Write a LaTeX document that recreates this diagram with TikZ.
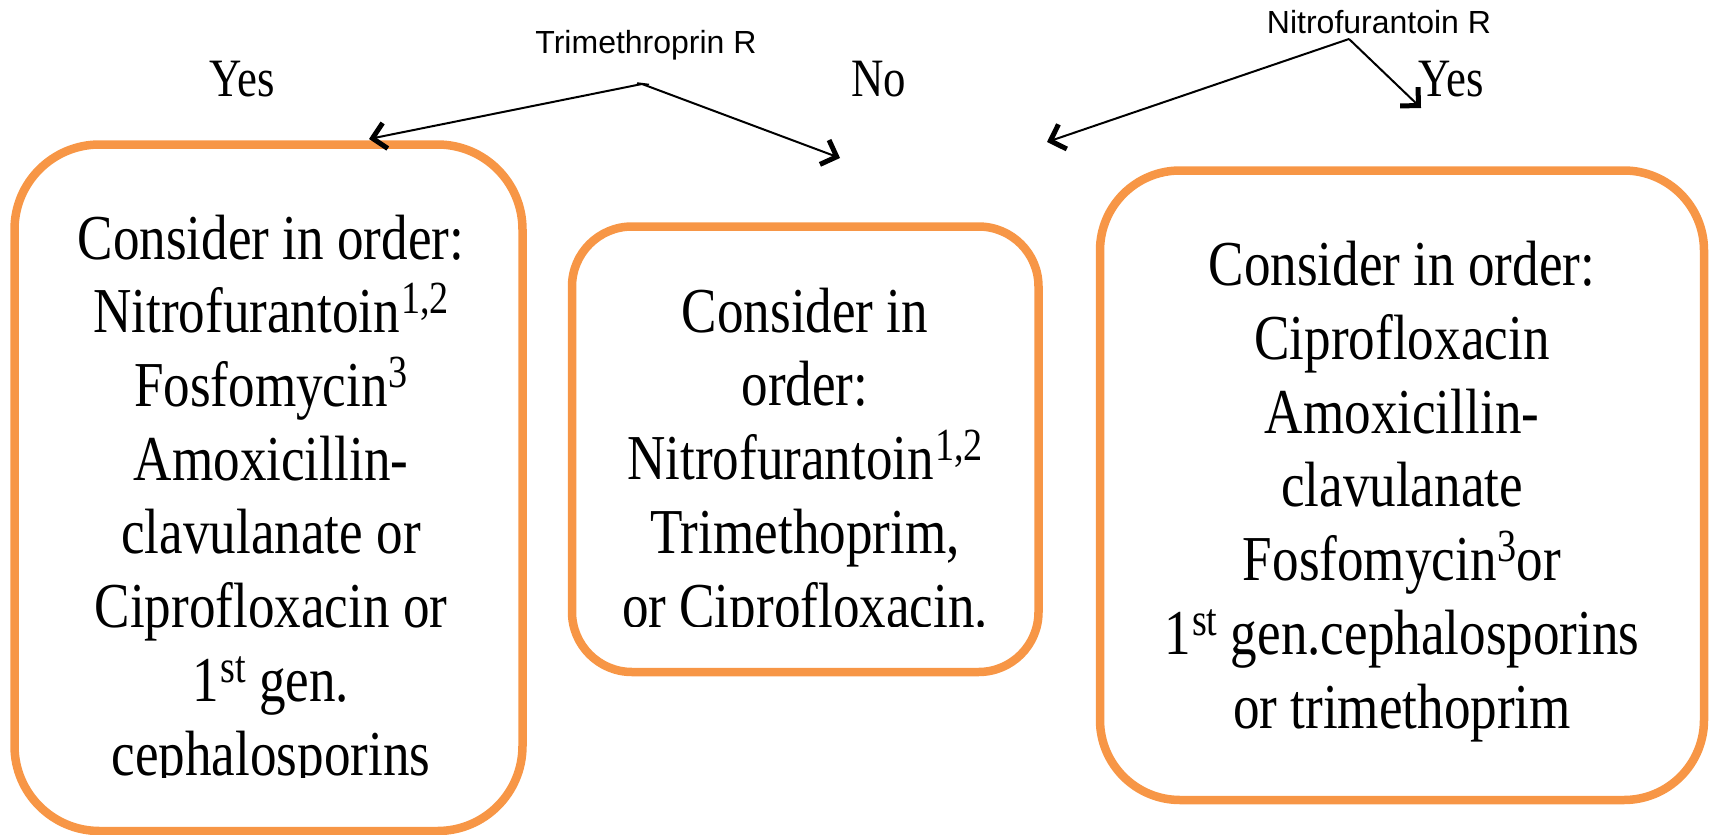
\documentclass[tikz,border=0pt]{standalone}
\usepackage{fontspec}
\setmainfont{Liberation Serif}
\newfontfamily\boxfont[FakeStretch=0.83]{Liberation Serif}
\newfontfamily\labelfont{Liberation Sans}
\usetikzlibrary{arrows.meta}
\definecolor{boxorange}{HTML}{F79646}
% raised, smaller superscript for footnote marks
\newcommand\supx[1]{\kern1pt\raisebox{19pt}{\fontsize{46}{46}\selectfont #1}}

\tikzset{
  optionbox/.style={draw=boxorange, line width=8.5pt, rectangle, inner sep=0pt},
  % anchor=base of a multi-line node is the baseline of its last line
  drugtext/.style={font=\boxfont\fontsize{64}{73.7}\selectfont, align=center, anchor=base, inner sep=0pt},
  answer/.style={font=\boxfont\fontsize{54}{60}\selectfont, anchor=base, inner sep=0pt},
  resist/.style={font=\labelfont\fontsize{32}{36}\selectfont, anchor=base, inner sep=0pt},
  choice/.style={line width=2pt, -{Straight Barb[length=13pt,width=26pt,line width=5pt]}},
}

\begin{document}
\begin{tikzpicture}[x=1pt,y=-1pt]
\useasboundingbox (0,0) rectangle (1711,835);

% option boxes
\node[optionbox, rounded corners=85pt, minimum width=508pt, minimum height=686.5pt] (lbox) at (268.5,487.75) {};
\node[optionbox, rounded corners=60pt, minimum width=466.5pt, minimum height=445.5pt] (mbox) at (805.25,449.25) {};
\node[optionbox, rounded corners=80pt, minimum width=604pt, minimum height=629.5pt] (rbox) at (1402,485.25) {};

% box contents (the two left lists run past their boxes and are cut off)
\begin{scope}
  \clip (0,140) rectangle (522,777);
  \node[drugtext] (ltext) at (271,775) {Consider in order:\\Nitrofurantoin\supx{1,2}\\Fosfomycin\supx{3}\\Amoxicillin-\\clavulanate or\\Ciprofloxacin or\\1\supx{st} gen.\\cephalosporins};
\end{scope}
\begin{scope}
  \clip (560,220) rectangle (1040,626);
  \node[drugtext] (mtext) at (805,627) {Consider in\\order:\\Nitrofurantoin\supx{1,2}\\Trimethoprim,\\or Ciprofloxacin.};
\end{scope}
\node[drugtext] (rtext) at (1402,728) {Consider in order:\\Ciprofloxacin\\Amoxicillin-\\clavulanate\\Fosfomycin\supx{3}or\\1\supx{st} gen.cephalosporins\\or trimethoprim};

% branch answers
\node[answer] (yesT) at (242,96) {Yes};
\node[answer] (noT) at (879,96) {No};
\node[answer] (yesN) at (1451,96) {Yes};

% resistance questions
\node[resist] (trimR) at (646,53) {Trimethroprin R};
\node[resist] (nitroR) at (1379,33) {Nitrofurantoin R};

% branch points and arrow ends
\coordinate (trimS) at (642,84);
\coordinate (trimYes) at (369,139);
\coordinate (trimNo) at (840,158);
\coordinate (nitS) at (1349,39);
\coordinate (nitNo) at (1047,142);
\coordinate (nitYes) at (1421,108);

\draw[line width=1.5pt] (trimS) +(-5,-1) -- +(7,0.5);
\draw[choice] (trimS) -- (trimYes);
\draw[choice] (trimS) -- (trimNo);
\draw[choice] (nitS) -- (nitNo);
\draw[choice] (nitS) -- (nitYes);
\end{tikzpicture}
\end{document}
